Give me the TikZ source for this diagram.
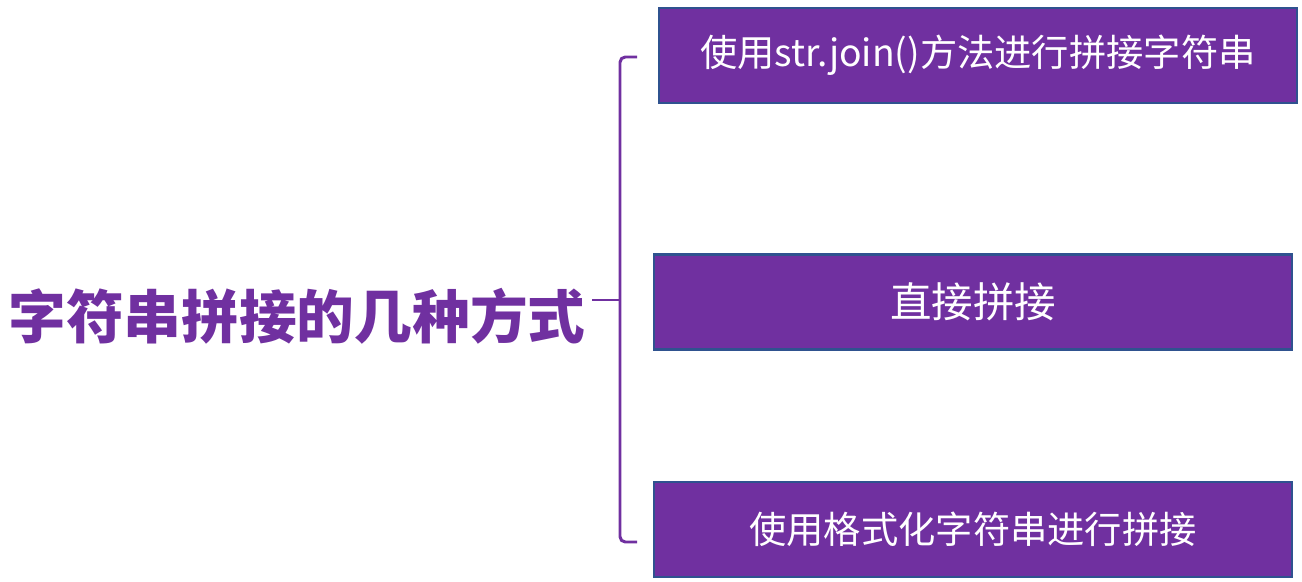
\documentclass[tikz,border=0pt]{standalone}
\usepackage{fontspec}
\setmainfont{Noto Sans CJK SC}
\usepackage{tikz}
\usetikzlibrary{positioning}
\definecolor{way}{RGB}{112,48,160}
\definecolor{wayedge}{RGB}{47,82,143}
\tikzset{
  waybox/.style={draw=wayedge,fill=way,line width=0.6pt,text=white,
    minimum width=6.38cm,minimum height=0.95cm,inner sep=0pt,
    font=\fontsize{10.6}{13}\selectfont},
  waytitle/.style={text=way,inner sep=0pt,font=\fontsize{16.4}{18}\selectfont\bfseries},
  waybrace/.style={way,line width=0.85pt,rounded corners=1.5pt},
}
\begin{document}
\begin{tikzpicture}[x=0.01cm,y=-0.01cm]
  \useasboundingbox (0,0) rectangle (1302,582);
  \node[waytitle] (title) at (297,316) {字符串拼接的几种方式};
  \node[waybox] (m1) at (978,55.5) {使用str.join()方法进行拼接字符串};
  \node[waybox,font=\fontsize{11.8}{13}\selectfont] (m2) at (973,302) {直接拼接};
  \node[waybox] (m3) at (973,529.5) {使用格式化字符串进行拼接};
  \coordinate (top) at (637,57);
  \coordinate (bot) at (637,542);
  \coordinate (mid) at (620,300);
  \coordinate (tip) at (592,300);
  \draw[waybrace] (top) -- (620,57) -- (620,542) -- (bot);
  \draw[waybrace] (tip) -- (mid);
\end{tikzpicture}
\end{document}
